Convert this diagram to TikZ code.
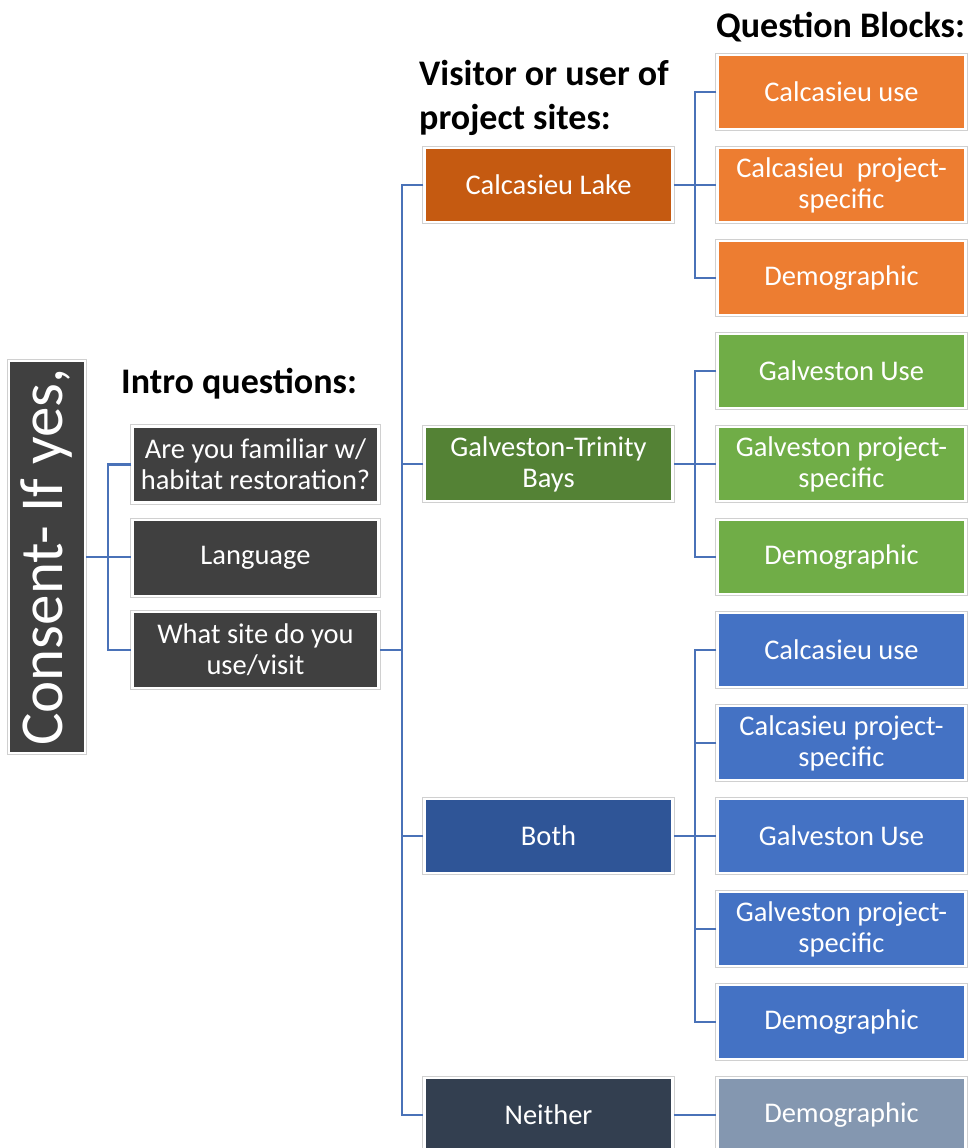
\documentclass[tikz,border=0pt]{standalone}
\usepackage{fontspec}
\setmainfont{Carlito}
\usepackage{tikz}
\definecolor{introgrey}{HTML}{404040}
\definecolor{boxedge}{HTML}{D0D0D0}
\definecolor{lakeorange}{HTML}{C55A11}
\definecolor{blockorange}{HTML}{ED7D31}
\definecolor{baygreen}{HTML}{548235}
\definecolor{blockgreen}{HTML}{70AD47}
\definecolor{bothblue}{HTML}{2F5597}
\definecolor{blockblue}{HTML}{4472C4}
\definecolor{neitherslate}{HTML}{333F50}
\definecolor{blockslate}{HTML}{8497B0}
\definecolor{linkblue}{HTML}{4A72B8}
\newcommand{\boxfont}{\fontsize{28.5}{31}\selectfont}
\newcommand{\headfont}{\fontsize{36}{44}\selectfont\bfseries}
\tikzset{
  box/.style={rectangle, inner sep=0pt, minimum width=248pt, minimum height=74pt,
    text=white, align=center, font=\boxfont, draw=white, line width=2.5pt,
    preaction={draw=boxedge, line width=4.5pt}},
  introbox/.style={box, fill=introgrey, minimum width=246pt, minimum height=76pt},
  head/.style={inner sep=0pt, anchor=west, font=\headfont, text=black},
  link/.style={draw=linkblue, line width=2.6pt}
}

\begin{document}
\begin{tikzpicture}[x=1pt, y=-1pt, line join=miter]
  \useasboundingbox (0,0) rectangle (970,1148);
  \clip (0,0) rectangle (970,1148);
  % headings
  \node[head] (blockhead) at (716,27) {Question Blocks:};
  \node[head, align=left] (sitehead) at (419,98) {Visitor or user of\\project sites:};
  \node[head] (introhead) at (121,384) {Intro questions:};
  % consent
  \node[box, fill=introgrey, rotate=90, minimum width=392pt, minimum height=76pt,
    font=\fontsize{61}{61}\selectfont] (consent) at (47,557) {Consent- If yes,};
  % intro questions
  \node[introbox] (famq) at (255.5,464.5) {Are you familiar w/\\habitat restoration?};
  \node[introbox] (langq) at (255.5,558) {Language};
  \node[introbox] (siteq) at (255.5,650) {What site do you\\use/visit};
  % project sites
  \node[box, fill=lakeorange] (lake) at (548.5,185) {Calcasieu Lake};
  \node[box, fill=baygreen] (bay) at (548.5,464) {Galveston-Trinity\\Bays};
  \node[box, fill=bothblue] (both) at (548.5,836) {Both};
  \node[box, fill=neitherslate] (neither) at (548.5,1115) {Neither};
  % question blocks
  \node[box, fill=blockorange] (cl1) at (841.5,92) {Calcasieu use};
  \node[box, fill=blockorange] (cl2) at (841.5,185) {Calcasieu~~project-\\specific};
  \node[box, fill=blockorange] (cl3) at (841.5,278) {Demographic};
  \node[box, fill=blockgreen] (gt1) at (841.5,371) {Galveston Use};
  \node[box, fill=blockgreen] (gt2) at (841.5,464) {Galveston project-\\specific};
  \node[box, fill=blockgreen] (gt3) at (841.5,557) {Demographic};
  \node[box, fill=blockblue] (bb1) at (841.5,650) {Calcasieu use};
  \node[box, fill=blockblue] (bb2) at (841.5,743) {Calcasieu project-\\specific};
  \node[box, fill=blockblue] (bb3) at (841.5,836) {Galveston Use};
  \node[box, fill=blockblue] (bb4) at (841.5,929) {Galveston project-\\specific};
  \node[box, fill=blockblue] (bb5) at (841.5,1022) {Demographic};
  \node[box, fill=blockslate] (nd) at (841.5,1115) {Demographic};
  % connectors
  \coordinate (introbus) at (108,0);
  \coordinate (sitebus) at (402,0);
  \coordinate (blockbus) at (695,0);
  \draw[link] (consent.south) -- (consent.south -| langq.west);
  \draw[link] (famq.west) -| (introbus |- siteq.west) -- (siteq.west);
  \draw[link] (siteq.east) -- (siteq.east -| sitebus);
  \draw[link] (lake.west) -| (sitebus |- neither.west) -- (neither.west);
  \draw[link] (bay.west) -- (bay.west -| sitebus);
  \draw[link] (both.west) -- (both.west -| sitebus);
  \draw[link] (lake.east) -- (cl2.west);
  \draw[link] (cl1.west) -| (blockbus |- cl3.west) -- (cl3.west);
  \draw[link] (bay.east) -- (gt2.west);
  \draw[link] (gt1.west) -| (blockbus |- gt3.west) -- (gt3.west);
  \draw[link] (both.east) -- (bb3.west);
  \draw[link] (bb1.west) -| (blockbus |- bb5.west) -- (bb5.west);
  \draw[link] (bb2.west) -- (bb2.west -| blockbus);
  \draw[link] (bb4.west) -- (bb4.west -| blockbus);
  \draw[link] (neither.east) -- (nd.west);
\end{tikzpicture}
\end{document}
